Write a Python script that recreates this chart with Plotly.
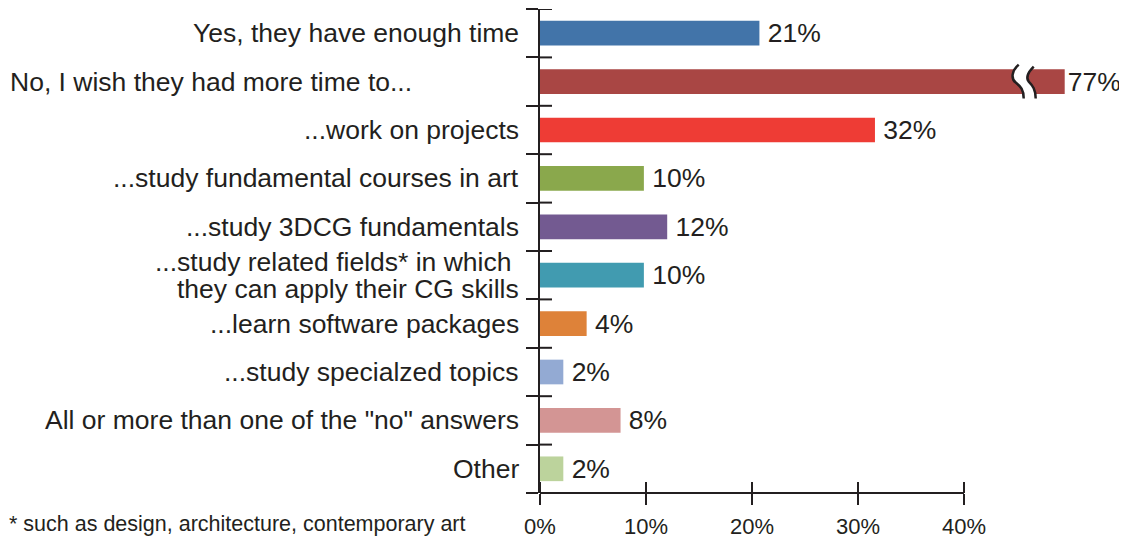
import plotly.graph_objects as go

# survey answers, top to bottom
categories = [
    "Yes, they have enough time",
    "No, I wish they had more time to...",
    "...work on projects",
    "...study fundamental courses in art",
    "...study 3DCG fundamentals",
    "...study related fields* in which\u00a0<br>they can apply their CG skills",
    "...learn software packages",
    "...study specialzed topics",
    "All or more than one of the \"no\" answers",
    "Other",
]
values = [20.7, 77, 31.6, 9.8, 12.0, 9.8, 4.4, 2.2, 7.6, 2.2]
colors = ["#4274a9", "#a94644", "#ee3c35", "#8aa84c", "#735a91",
          "#419bb0", "#de8239", "#93aad3", "#d39594", "#bcd39c"]
x_ticks = [0, 10, 20, 30, 40]
x_ticktext = ["0%", "10%", "20%", "30%", "40%"]
footnote = "* such as design, architecture, contemporary art"

# the long bar is cut off with a break mark
bar_cap = 49.5

# page has an 8px body margin, so the figure is a bit smaller than the window
OFF = 8
W, H = 1127 - OFF, 542 - OFF
ML, MR, MT, MB = 540 - OFF, 57, 9 - OFF, 49
X_MAX = 50
INK = "#231f20"
FONT = "Arial, 'Liberation Sans', sans-serif"

px_per_x = (W - ML - MR) / X_MAX
px_per_y = (H - MT - MB) / len(categories)

ypos = list(range(len(categories)))
shown = [min(v, bar_cap) for v in values]
labels = [("%d%%" if v > bar_cap else "\u2009%d%%") % round(v) for v in values]

fig = go.Figure(go.Bar(
    x=shown,
    y=ypos,
    orientation="h",
    width=0.51,
    marker=dict(color=colors, line=dict(width=0)),
    text=labels,
    textposition="outside",
    constraintext="none",
    cliponaxis=False,
    textfont=dict(size=26.5, color=INK, family=FONT),
    hoverinfo="skip",
))

# category labels
annotations = []
for i, cat in enumerate(categories):
    lines = cat.split("<br>")
    for j, line in enumerate(lines):
        shift = (len(lines) - 1) / 2 * 27 - j * 27
        if cat.startswith("No,"):
            anchor, xshift = "left", -ML
        else:
            anchor, xshift = "right", -19
        annotations.append(dict(
            x=0, xref="paper", y=i, yref="y",
            text=line, showarrow=False,
            xanchor=anchor, yanchor="middle", xshift=xshift, yshift=shift,
            font=dict(size=26.5, color=INK, family=FONT),
        ))

annotations.append(dict(
    x=0, xref="paper", y=-31 / (H - MT - MB), yref="paper",
    xanchor="left", yanchor="middle", xshift=-ML - 1, showarrow=False,
    text=footnote, font=dict(size=21.5, color=INK, family=FONT),
))

shapes = []
# x axis line, only up to 40%
shapes.append(dict(type="line", xref="x", yref="paper", x0=0, x1=x_ticks[-1],
                   y0=0, y1=0, line=dict(color=INK, width=2)))
# inner half of the x ticks
for t in x_ticks:
    shapes.append(dict(type="line", xref="x", yref="paper", x0=t, x1=t,
                       y0=0, y1=11 / (H - MT - MB), line=dict(color=INK, width=2)))
# inner half of the y ticks
for k in range(len(categories) + 1):
    shapes.append(dict(type="line", xref="x", yref="y", x0=0, x1=12 / px_per_x,
                       y0=k - 0.5, y1=k - 0.5, line=dict(color=INK, width=2)))


def pt(dx, dy, cx, cy):
    return "%.4f,%.4f" % (cx + dx / px_per_x, cy + dy / px_per_y)


# break mark on the truncated bar
for i, v in enumerate(values):
    if v <= bar_cap:
        continue
    cx = bar_cap - 41 / px_per_x
    cy = i
    p = lambda dx, dy: pt(dx, dy, cx, cy)
    left = ("M " + p(-5, -17) + " C " + p(-12, -11) + " " + p(-13, -3) + " " + p(-8, 1)
            + " C " + p(-3, 5) + " " + p(0, 8) + " " + p(0, 17))
    right_back = (" C " + p(12, 8) + " " + p(9, 4) + " " + p(5, 0)
                  + " C " + p(2, -4) + " " + p(5, -10) + " " + p(10, -15))
    fill = left + " L " + p(12, 17) + right_back + " Z"
    shapes.append(dict(type="path", xref="x", yref="y", path=fill,
                       fillcolor="white", line=dict(width=0)))
    right = ("M " + p(10, -15) + " C " + p(5, -10) + " " + p(2, -4) + " " + p(5, 0)
             + " C " + p(9, 4) + " " + p(12, 8) + " " + p(12, 17))
    for path in (left, right):
        shapes.append(dict(type="path", xref="x", yref="y", path=path,
                           line=dict(color=INK, width=2.5)))

fig.update_layout(
    width=W, height=H,
    margin=dict(l=ML, r=MR, t=MT, b=MB),
    paper_bgcolor="white", plot_bgcolor="white",
    showlegend=False,
    font=dict(family=FONT, color=INK),
    xaxis=dict(
        range=[0, X_MAX], tickvals=x_ticks, ticktext=x_ticktext,
        ticks="outside", ticklen=11, tickwidth=2, tickcolor=INK,
        ticklabelstandoff=3,
        showline=False, showgrid=False, zeroline=False,
        tickfont=dict(size=22, color=INK, family=FONT),
    ),
    yaxis=dict(
        range=[len(categories) - 0.5, -0.5],
        tickvals=[k - 0.5 for k in range(len(categories) + 1)],
        ticks="outside", ticklen=12, tickwidth=2, tickcolor=INK,
        showticklabels=False,
        showline=True, linewidth=2, linecolor=INK,
        showgrid=False, zeroline=False,
    ),
    annotations=annotations,
    shapes=shapes,
)

fig.write_html("out.html")
